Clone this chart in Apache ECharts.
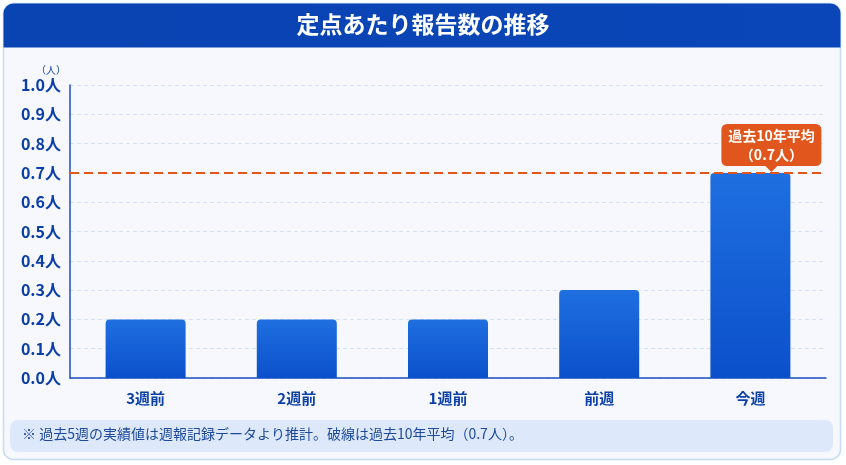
<!DOCTYPE html>
<html>
<head>
<meta charset="utf-8">
<script src="https://cdn.jsdelivr.net/npm/echarts@6/dist/echarts.min.js"></script>
<style>
  html, body { margin: 0; padding: 0; background: #ffffff; }
  #main { width: 846px; height: 465px; }
</style>
</head>
<body>
<div id="main"></div>
<script>
// データ
var categories = ['3週前', '2週前', '1週前', '前週', '今週'];
var reports = [0.2, 0.2, 0.2, 0.3, 0.7];
var avg10y = 0.7;
var yMax = 1.0;
var yStep = 0.1;

var font = '"Noto Sans CJK JP", "Noto Sans", sans-serif';
var axisBlue = '#0b3fa8';

var chart = echarts.init(document.getElementById('main'));

chart.setOption({
  backgroundColor: '#ffffff',
  textStyle: { fontFamily: font },
  title: {
    text: '定点あたり報告数の推移',
    left: 'center',
    top: 8,
    textStyle: { color: '#ffffff', fontSize: 23, fontWeight: 'bold', fontFamily: font }
  },
  graphic: [
    // カード
    {
      type: 'rect', z: -10, silent: true,
      shape: { x: 3.5, y: 3.5, width: 837, height: 456, r: 10 },
      style: { fill: '#f6f8fd', stroke: '#c6daf6', lineWidth: 1.5 }
    },
    // ヘッダー
    {
      type: 'rect', z: -9, silent: true,
      shape: { x: 3.5, y: 3.5, width: 837, height: 44, r: [10, 10, 0, 0] },
      style: {
        fill: new echarts.graphic.LinearGradient(0, 0, 1, 0, [
          { offset: 0, color: '#0a43b2' },
          { offset: 1, color: '#0a46b8' }
        ])
      }
    },
    // 注記
    {
      type: 'rect', z: -8, silent: true,
      shape: { x: 10, y: 420, width: 823, height: 32, r: 8 },
      style: { fill: '#dde9fb' }
    },
    {
      type: 'text', silent: true,
      left: 22, top: 427,
      style: {
        text: '※ 過去5週の実績値は週報記録データより推計。破線は過去10年平均（0.7人）。',
        fill: '#1d4a9c', font: '14px ' + font
      }
    }
  ],
  grid: { left: 70, right: 20, top: 85, bottom: 87 },
  xAxis: {
    type: 'category',
    data: categories,
    axisLine: { lineStyle: { color: '#1a4fc0', width: 1.5 } },
    axisTick: { show: false },
    axisLabel: { color: axisBlue, fontSize: 15, fontWeight: 'bold', margin: 13 }
  },
  yAxis: {
    type: 'value',
    min: 0,
    max: yMax,
    interval: yStep,
    name: '（人）',
    nameGap: 10,
    nameTextStyle: { color: axisBlue, fontSize: 10, align: 'right', padding: [0, 4, 0, 0] },
    axisLine: { show: true, lineStyle: { color: '#1a4fc0', width: 1.5 } },
    axisTick: { show: false },
    axisLabel: {
      color: axisBlue, fontSize: 16, fontWeight: 'bold', margin: 9,
      formatter: function (v) { return v.toFixed(1) + '人'; }
    },
    splitLine: { lineStyle: { color: '#d3e2f7', type: [4, 3] } }
  },
  series: [
    {
      type: 'bar',
      data: reports,
      barWidth: 80,
      itemStyle: {
        borderRadius: [4, 4, 0, 0],
        color: new echarts.graphic.LinearGradient(0, 0, 0, 1, [
          { offset: 0, color: '#1f6fe0' },
          { offset: 1, color: '#0b50cb' }
        ])
      },
      markLine: {
        silent: true,
        symbol: 'none',
        label: { show: false },
        lineStyle: { color: '#e0561c', type: [9, 5], width: 2 },
        data: [{ yAxis: avg10y }]
      },
      markPoint: {
        silent: true,
        data: [{
          coord: [categories[categories.length - 1], avg10y],
          symbol: 'path://M6,0 H94 Q100,0 100,6 V36 Q100,42 94,42 H56 L50,48 L44,42 H6 Q0,42 0,36 V6 Q0,0 6,0 Z',
          symbolSize: [100, 48],
          symbolOffset: [21, -25],
          itemStyle: { color: '#e0561c' },
          label: {
            show: true,
            position: 'inside',
            offset: [0, -3],
            formatter: '過去10年平均\n（' + avg10y.toFixed(1) + '人）',
            color: '#ffffff',
            fontSize: 14,
            fontWeight: 'bold',
            lineHeight: 19,
            align: 'center'
          }
        }]
      }
    }
  ]
});
</script>
</body>
</html>
